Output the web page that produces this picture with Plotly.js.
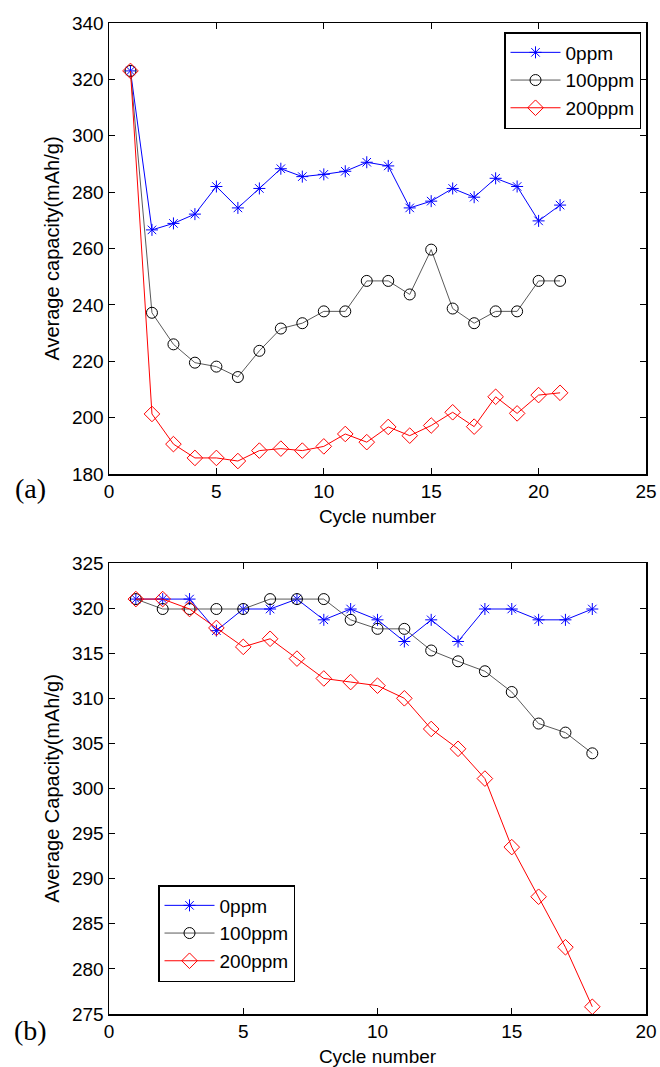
<!DOCTYPE html>
<html>
<head>
<meta charset="utf-8">
<script src="https://cdn.plot.ly/plotly-3.0.1.min.js"></script>
<style>html,body{margin:0;padding:0;background:#fff;}#chart{width:660px;height:1067px;}</style>
</head>
<body>
<div id="chart"></div>
<script>
// ---- Data (a) ----
const cyclesA = [1,2,3,4,5,6,7,8,9,10,11,12,13,14,15,16,17,18,19,20,21];
const a_0ppm   = [323, 266.6, 268.9, 272.2, 282.0, 274.4, 281.3, 288.3, 285.5, 286.3, 287.4, 290.6, 289.3, 274.4, 276.8, 281.3, 278.2, 284.9, 282.0, 269.8, 275.4];
const a_100ppm = [323, 237.2, 226.0, 219.5, 218.1, 214.4, 223.7, 231.6, 233.5, 237.7, 237.7, 248.5, 248.5, 243.7, 259.6, 238.7, 233.5, 237.7, 237.7, 248.5, 248.5];
const a_200ppm = [323, 201.3, 190.6, 185.7, 185.7, 184.6, 188.3, 189.0, 188.3, 189.8, 194.2, 191.3, 196.7, 193.6, 197.2, 201.9, 196.8, 207.4, 201.5, 208.0, 208.8];

// ---- Data (b) ----
const cyclesB = [1,2,3,4,5,6,7,8,9,10,11,12,13,14,15,16,17,18];
const b_0ppm   = [321, 321, 321, 317.5, 319.9, 319.9, 321, 318.7, 319.9, 318.7, 316.3, 318.7, 316.3, 319.9, 319.9, 318.7, 318.7, 319.9];
const b_100ppm = [321, 319.9, 319.9, 319.9, 319.9, 321, 321, 321, 318.7, 317.7, 317.7, 315.3, 314.1, 313.0, 310.7, 307.2, 306.2, 303.9];
const b_200ppm = [321, 321, 319.9, 317.8, 315.7, 316.6, 314.4, 312.2, 311.8, 311.4, 310.0, 306.6, 304.4, 301.1, 293.5, 288.0, 282.4, 275.8];

const seriesNames = ['0ppm', '100ppm', '200ppm'];
const xTitle = 'Cycle number';
const yTitleA = 'Average capacity(mAh/g)';
const yTitleB = 'Average Capacity(mAh/g)';

const styles = [
  {line: {color: '#0000ff', width: 1}, marker: {symbol: 'asterisk-open', size: 10, color: '#0000ff', line: {color: '#0000ff', width: 1}}},
  {line: {color: '#5a5a5a', width: 1}, marker: {symbol: 'circle-open', size: 11, color: '#000000', line: {color: '#000000', width: 1}}},
  {line: {color: '#ff0000', width: 1}, marker: {symbol: 'diamond-open', size: 12, color: '#ff0000', line: {color: '#ff0000', width: 1}}}
];

const traces = [];
[a_0ppm, a_100ppm, a_200ppm].forEach((ys, i) => {
  traces.push(Object.assign({type: 'scatter', mode: 'lines+markers', x: cyclesA, y: ys, name: seriesNames[i],
    xaxis: 'x', yaxis: 'y', legend: 'legend'}, JSON.parse(JSON.stringify(styles[i]))));
});
[b_0ppm, b_100ppm, b_200ppm].forEach((ys, i) => {
  traces.push(Object.assign({type: 'scatter', mode: 'lines+markers', x: cyclesB, y: ys, name: seriesNames[i],
    xaxis: 'x2', yaxis: 'y2', legend: 'legend2'}, JSON.parse(JSON.stringify(styles[i]))));
});

const font = {family: 'Liberation Sans, Arial, sans-serif', size: 19, color: '#000'};
const axisBase = {
  showline: true, linecolor: '#000', linewidth: 1.5, mirror: 'ticks',
  ticks: 'inside', ticklen: 6, tickcolor: '#000', tickwidth: 1,
  showgrid: false, zeroline: false, tickfont: {size: 19, color: '#000'}
};
const xDom = [109/660, 646/660];

const layout = {
  width: 660, height: 1067,
  margin: {l: 0, r: 0, t: 0, b: 0},
  paper_bgcolor: '#fff', plot_bgcolor: '#fff',
  font: font,
  showlegend: true,
  xaxis: Object.assign({}, axisBase, {domain: xDom, anchor: 'y', range: [0, 25], dtick: 5, tick0: 0,
    title: {text: xTitle, font: {size: 19}, standoff: 8}}),
  yaxis: Object.assign({}, axisBase, {domain: [1 - 474/1067, 1 - 23/1067], anchor: 'x', range: [180, 340], dtick: 20, tick0: 180,
    title: {text: yTitleA, font: {size: 20}}}),
  xaxis2: Object.assign({}, axisBase, {domain: xDom, anchor: 'y2', range: [0, 20], dtick: 5, tick0: 0,
    title: {text: xTitle, font: {size: 19}, standoff: 8}}),
  yaxis2: Object.assign({}, axisBase, {domain: [1 - 1014/1067, 1 - 563/1067], anchor: 'x2', range: [275, 325], dtick: 5, tick0: 275,
    title: {text: yTitleB, font: {size: 20}}}),
  legend: {x: 641/660, y: 1 - 32/1067, xanchor: 'right', yanchor: 'top', bgcolor: '#fff',
    bordercolor: '#000', borderwidth: 1.5, font: {size: 19, color: '#000'}, tracegroupgap: 0, itemwidth: 50},
  legend2: {x: 158/660, y: 1 - 885/1067, xanchor: 'left', yanchor: 'top', bgcolor: '#fff',
    bordercolor: '#000', borderwidth: 1.5, font: {size: 19, color: '#000'}, tracegroupgap: 0, itemwidth: 50},
  annotations: [
    {text: '(a)', xref: 'paper', yref: 'paper', x: 31/660, y: 1 - 488/1067, xanchor: 'center', yanchor: 'middle',
      showarrow: false, font: {family: 'Liberation Serif, Times New Roman, serif', size: 28, color: '#000'}},
    {text: '(b)', xref: 'paper', yref: 'paper', x: 31/660, y: 1 - 1030/1067, xanchor: 'center', yanchor: 'middle',
      showarrow: false, font: {family: 'Liberation Serif, Times New Roman, serif', size: 28, color: '#000'}}
  ]
};

Plotly.newPlot('chart', traces, layout, {displayModeBar: false, staticPlot: true});
</script>
</body>
</html>
